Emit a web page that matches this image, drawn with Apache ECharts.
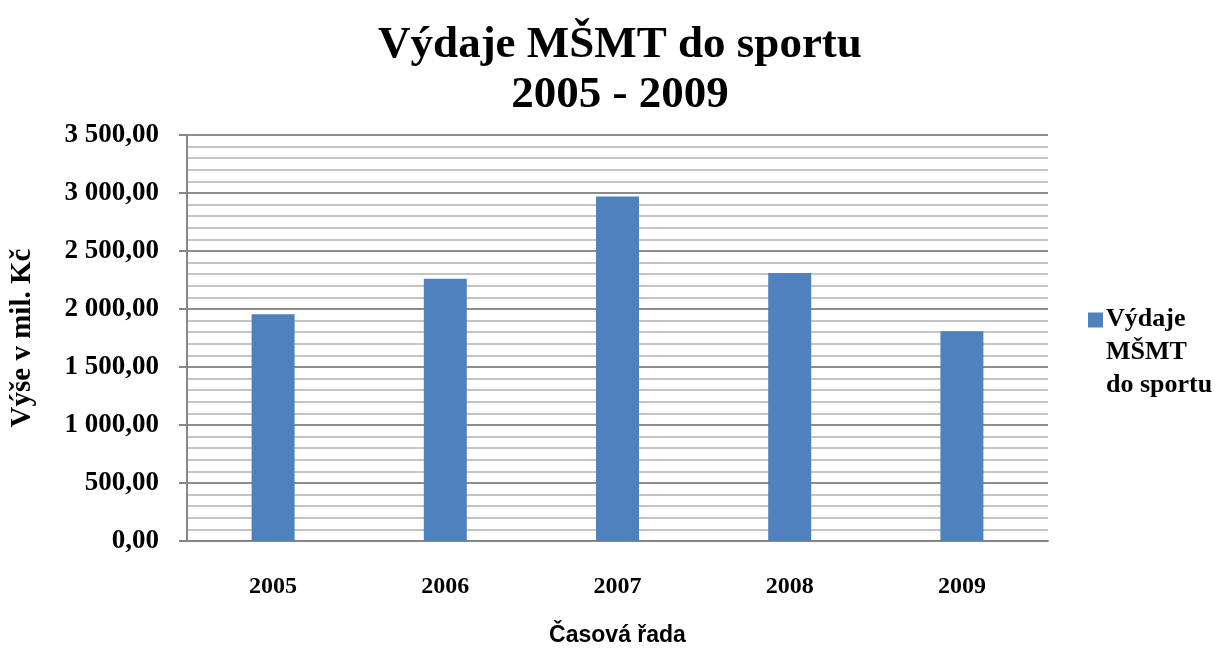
<!DOCTYPE html>
<html>
<head>
<meta charset="utf-8">
<title>Výdaje MŠMT do sportu</title>
<script src="https://cdn.jsdelivr.net/npm/echarts@6/dist/echarts.min.js"></script>
<style>
    html, body { margin: 0; padding: 0; background: #fff; }
    #chart { width: 1223px; height: 652px; }
</style>
</head>
<body>
<div id="chart"></div>
<script>
// Data
var years = ['2005', '2006', '2007', '2008', '2009'];
var spending = [1955, 2260, 2970, 2310, 1808];
var seriesName = 'Výdaje MŠMT do sportu';

// Number format like "3 500,00"
var formatCz = function(v) {
    var parts = v.toFixed(2).split('.');
    return parts[0].replace(/\B(?=(\d{3})+(?!\d))/g, ' ') + ',' + parts[1];
};

var serif = '"Liberation Serif", "Times New Roman", serif';
var chart = echarts.init(document.getElementById('chart'));

chart.setOption({
    animation: false,
    color: ['#4f81bd'],

    title: {
        text: 'Výdaje MŠMT do sportu\n2005 - 2009',
        left: 615,
        textAlign: 'center',
        top: 15,
        textStyle: {
            fontFamily: serif,
            fontWeight: 'bold',
            fontSize: 45,
            lineHeight: 50,
            color: '#000'
        }
    },

    legend: {
        orient: 'vertical',
        left: 1083,
        top: 298,
        itemWidth: 15,
        itemHeight: 96,
        // square at the top of the item, so it sits next to the first line
        icon: 'path://M0,8L15,8L15,23L0,23Z M0,0L0.01,0 M0,96L0.01,96',
        formatter: function() {
            return 'Výdaje\nMŠMT\ndo sportu';
        },
        textStyle: {
            fontFamily: serif,
            fontWeight: 'bold',
            fontSize: 26,
            lineHeight: 33,
            padding: [0, 0, 0, -2],
            color: '#000'
        },
        data: [seriesName]
    },

    grid: {
        left: 186,
        right: 175,
        top: 135,
        bottom: 107
    },

    xAxis: {
        type: 'category',
        data: years,
        name: 'Časová řada',
        nameLocation: 'middle',
        nameGap: 83,
        nameTextStyle: {
            fontFamily: '"Liberation Sans", Arial, sans-serif',
            fontWeight: 'bold',
            fontSize: 23,
            color: '#000'
        },
        axisLine: { lineStyle: { color: '#868686', width: 2 } },
        axisTick: { show: false },
        axisLabel: {
            margin: 34,
            fontFamily: serif,
            fontWeight: 'bold',
            fontSize: 24,
            color: '#000'
        }
    },

    yAxis: {
        type: 'value',
        min: 0,
        max: 3500,
        interval: 500,
        name: 'Výše v mil. Kč',
        nameLocation: 'middle',
        nameRotate: 90,
        nameGap: 150,
        nameTextStyle: {
            fontFamily: serif,
            fontWeight: 'bold',
            fontSize: 29,
            color: '#000'
        },
        axisLine: { show: true, lineStyle: { color: '#868686', width: 2 } },
        axisTick: { show: true, length: 8, lineStyle: { color: '#868686', width: 2 } },
        axisLabel: {
            margin: 28,
            fontFamily: serif,
            fontWeight: 'bold',
            fontSize: 27,
            color: '#000',
            formatter: formatCz
        },
        splitLine: { lineStyle: { color: '#8c8c8c', width: 2 } },
        minorTick: { show: false, splitNumber: 5 },
        minorSplitLine: { show: true, lineStyle: { color: '#c4c4c4', width: 2 } }
    },

    series: [{
        name: seriesName,
        type: 'bar',
        barWidth: 43,
        data: spending
    }]
});
</script>
</body>
</html>
